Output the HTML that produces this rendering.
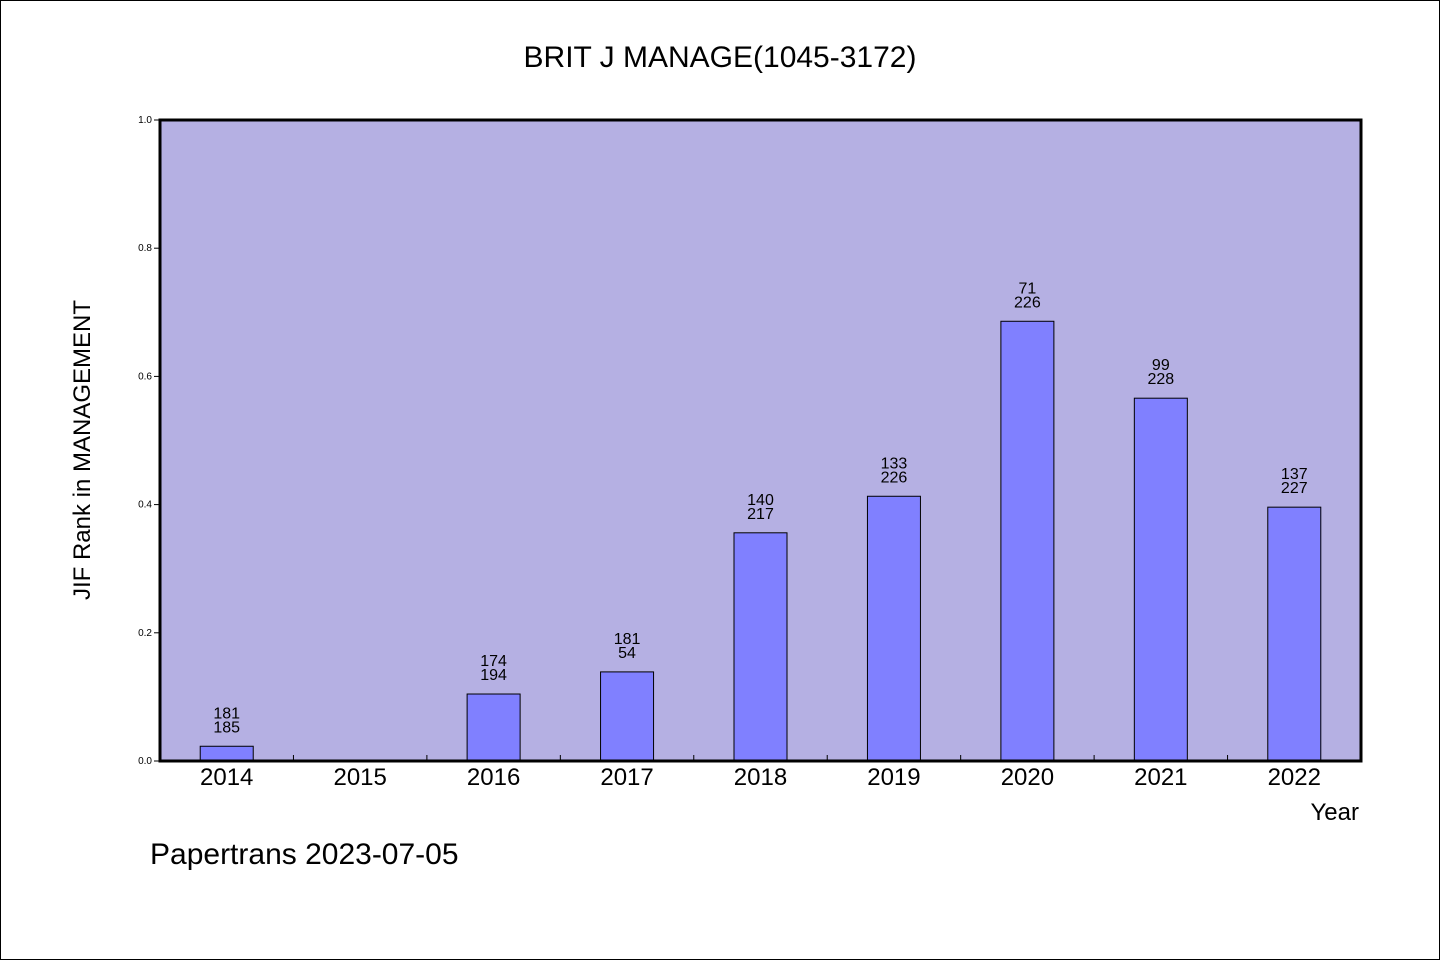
<!DOCTYPE html>
<html><head><meta charset="utf-8"><style>
html,body{margin:0;padding:0;background:#fff}
svg{display:block}
text{font-family:"WenQuanYi Zen Hei","Liberation Sans",sans-serif;fill:#000}
</style></head><body>
<svg id="chart" width="1440" height="960" viewBox="0 0 1440 960">
<rect x="0.5" y="0.5" width="1439" height="959" fill="#fff" stroke="#000" stroke-width="1"/>
<text x="720" y="67" font-size="30" text-anchor="middle">BRIT J MANAGE(1045-3172)</text>
<rect x="160" y="120" width="1201" height="641" fill="#b5b0e3"/>
<g id="bars"></g>
<g id="yaxis"></g>
<g id="xaxis"></g>
<rect x="160" y="120" width="1201" height="641" fill="none" stroke="#000" stroke-width="3"/>
<text transform="translate(90,450) rotate(-90)" font-size="24" text-anchor="middle">JIF Rank in MANAGEMENT</text>
<text x="1359" y="820" font-size="24" text-anchor="end">Year</text>
<text x="150" y="864" font-size="30">Papertrans 2023-07-05</text>
</svg>
<script>
const years=["2014","2015","2016","2017","2018","2019","2020","2021","2022"];
const values=[0.023,null,0.1045,0.139,0.356,0.413,0.686,0.566,0.396];
const ranks=["181","","174","181","140","133","71","99","137"];
const totals=["185","","194","54","217","226","226","228","227"];
const yTicks=[0,0.2,0.4,0.6,0.8,1.0];
const NS="http://www.w3.org/2000/svg";
const X0=160,X1=1361,Y0=761,Y1=120;
const band=(X1-X0)/years.length;
const xc=i=>X0+band*(i+0.5);
const y=v=>Y0-(Y0-Y1)*v;
function mk(tag,attrs,parent,txt){const e=document.createElementNS(NS,tag);for(const k in attrs)e.setAttribute(k,attrs[k]);if(txt!==undefined)e.textContent=txt;parent.appendChild(e);return e;}
const bars=document.getElementById('bars'),ya=document.getElementById('yaxis'),xa=document.getElementById('xaxis');
years.forEach((yr,i)=>{
  const t=mk('text',{x:xc(i),y:785,'font-size':24,'text-anchor':'middle'},xa,yr);
  
  
  if(i>0){const l=mk('line',{x1:X0+band*i,x2:X0+band*i,y1:Y0,y2:Y0-6,stroke:'#000','stroke-width':1},xa);
    
    }
  const v=values[i];
  if(v===null)return;
  const r=mk('rect',{x:xc(i)-26.5,y:y(v),width:53,height:Y0-y(v),fill:'#8080ff',stroke:'#000','stroke-width':1},bars);
  
  
  const a=mk('text',{x:xc(i),y:y(v)-28,'font-size':16,'text-anchor':'middle'},bars,ranks[i]);
  
  
  const b=mk('text',{x:xc(i),y:y(v)-14,'font-size':16,'text-anchor':'middle'},bars,totals[i]);
  
  
});
yTicks.forEach(v=>{
  const l=mk('line',{x1:X0-6,x2:X0,y1:y(v),y2:y(v),stroke:'#000','stroke-width':1},ya);
  
  
  const t=mk('text',{x:X0-8,y:y(v)+3,'font-size':10,'text-anchor':'end'},ya,v.toFixed(1));
  
  
});
</script>
</body></html>
